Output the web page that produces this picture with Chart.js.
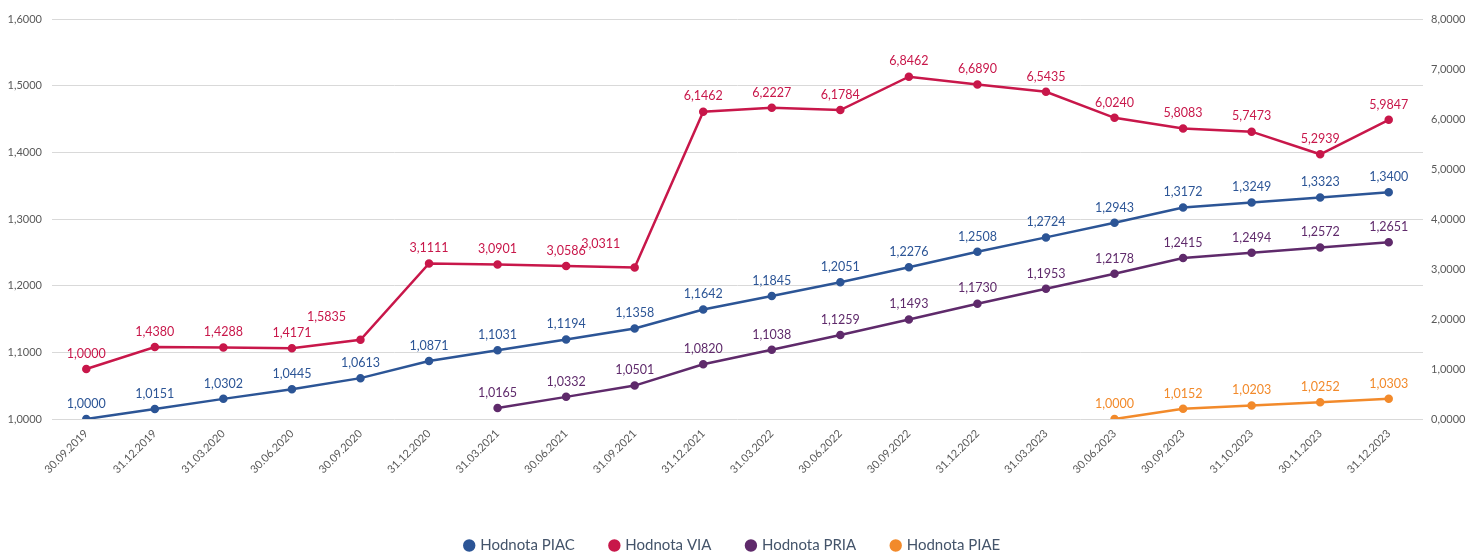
<!DOCTYPE html>
<html>
<head>
<meta charset="utf-8">
<script src="https://cdn.jsdelivr.net/npm/chart.js@4/dist/chart.umd.min.js"></script>
<style>
html,body{margin:0;padding:0;background:#fff;}
#wrap{width:1466px;height:553px;position:relative;}
</style>
</head>
<body>
<div id="wrap"><canvas id="c"></canvas></div>
<script>
const categories = ["30.09.2019","31.12.2019","31.03.2020","30.06.2020","30.09.2020","31.12.2020","31.03.2021","30.06.2021","31.09.2021","31.12.2021","31.03.2022","30.06.2022","30.09.2022","31.12.2022","31.03.2023","30.06.2023","30.09.2023","31.10.2023","30.11.2023","31.12.2023"];
const piac = [1.0000,1.0151,1.0302,1.0445,1.0613,1.0871,1.1031,1.1194,1.1358,1.1642,1.1845,1.2051,1.2276,1.2508,1.2724,1.2943,1.3172,1.3249,1.3323,1.3400];
const via = [1.0000,1.4380,1.4288,1.4171,1.5835,3.1111,3.0901,3.0586,3.0311,6.1462,6.2227,6.1784,6.8462,6.6890,6.5435,6.0240,5.8083,5.7473,5.2939,5.9847];
const pria = [null,null,null,null,null,null,1.0165,1.0332,1.0501,1.0820,1.1038,1.1259,1.1493,1.1730,1.1953,1.2178,1.2415,1.2494,1.2572,1.2651];
const piae = [null,null,null,null,null,null,null,null,null,null,null,null,null,null,null,1.0000,1.0152,1.0203,1.0252,1.0303];
const seriesNames = ["Hodnota PIAC","Hodnota VIA","Hodnota PRIA","Hodnota PIAE"];
const leftTicks = {min:1.0, max:1.6, step:0.1};
const rightTicks = {min:0, max:8, step:1};

const colors = ["#2c5596","#c8174a","#5f2a6b","#f28a2b"];
const fmt = v => v.toFixed(4).replace('.', ',');

// labels that are shifted left to avoid the rising line
const labelShift = {"1-4": [-34,-8], "1-8": [-34,-8]};

const dataLabels = {
  id:'dataLabels',
  afterDatasetsDraw(chart){
    const ctx = chart.ctx;
    ctx.save();
    ctx.font = '12.5px Lato, "Open Sans", sans-serif';
    ctx.textAlign = 'center';
    ctx.textBaseline = 'bottom';
    chart.data.datasets.forEach((ds, di) => {
      const meta = chart.getDatasetMeta(di);
      ctx.fillStyle = ds.borderColor;
      meta.data.forEach((pt, i) => {
        const v = ds.data[i];
        if (v === null || v === undefined) return;
        const sh = labelShift[di + '-' + i] || [0,0];
        ctx.fillText(fmt(v), pt.x + sh[0], pt.y - 9 + sh[1]);
      });
    });
    ctx.restore();
  }
};

const mk = (i, data, axis) => ({
  label: seriesNames[i], data, yAxisID: axis,
  borderColor: colors[i], backgroundColor: colors[i],
  pointBackgroundColor: colors[i], pointBorderColor: colors[i],
  borderWidth: 2.5, pointRadius: 3, pointHoverRadius: 3,
  tension: 0, spanGaps: false
});

new Chart(document.getElementById('c'), {
  type:'line',
  data:{
    labels: categories,
    datasets:[ mk(0, piac, 'y'), mk(1, via, 'y1'), mk(2, pria, 'y'), mk(3, piae, 'y') ]
  },
  options:{
    responsive:true, maintainAspectRatio:false, animation:false,
    layout:{padding:{top:19, left:0, right:0, bottom:-10}},
    plugins:{
      tooltip:{enabled:false},
      legend:{
        position:'bottom',
        labels:{
          usePointStyle:true, pointStyle:'circle', boxWidth:7, boxHeight:7,
          padding:36, color:'#44546a',
          font:{family:'Lato, "Open Sans", sans-serif', size:15}
        }
      }
    },
    scales:{
      x:{
        offset:true,
        grid:{display:false, drawTicks:false},
        border:{display:false},
        ticks:{maxRotation:45, minRotation:45, padding:8, color:'#595959',
               font:{family:'Lato, "Open Sans", sans-serif', size:11}, autoSkip:false},
        afterFit(s){ s.height = 83; }
      },
      y:{
        position:'left', min:leftTicks.min, max:leftTicks.max,
        grid:{color:'#d9d9d9', drawTicks:false, lineWidth:1},
        border:{display:false},
        ticks:{stepSize:leftTicks.step, padding:10, color:'#595959',
               font:{family:'Lato, "Open Sans", sans-serif', size:11},
               callback:v=>fmt(v)},
        afterFit(s){ s.width = 52; }
      },
      y1:{
        position:'right', min:rightTicks.min, max:rightTicks.max,
        grid:{drawOnChartArea:false, drawTicks:false},
        border:{display:false},
        ticks:{stepSize:rightTicks.step, padding:8, color:'#595959',
               font:{family:'Lato, "Open Sans", sans-serif', size:11},
               callback:v=>fmt(v)},
        afterFit(s){ s.width = 43; }
      }
    }
  },
  plugins:[dataLabels]
});
</script>
</body>
</html>
